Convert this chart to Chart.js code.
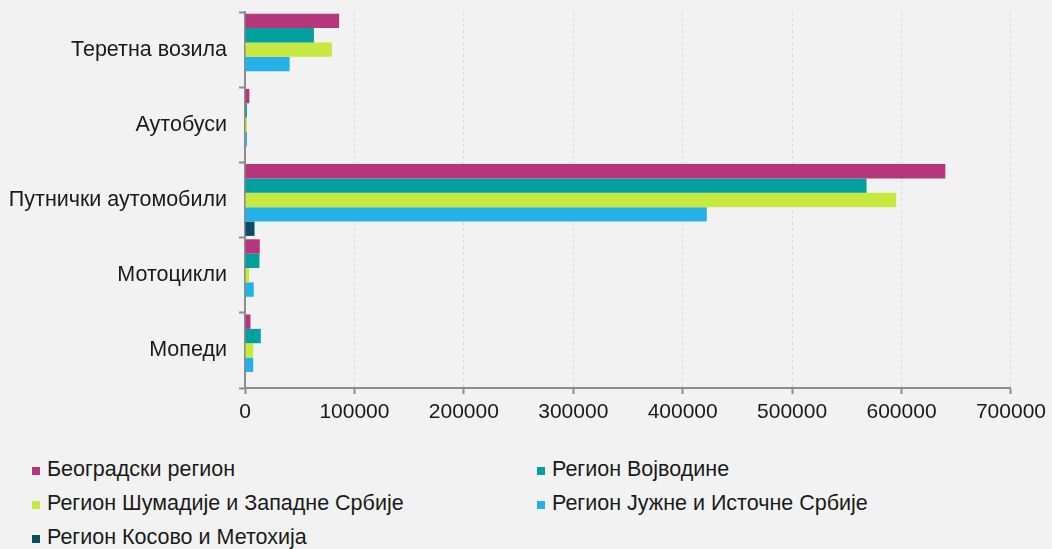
<!DOCTYPE html>
<html>
<head>
<meta charset="utf-8">
<script src="https://cdn.jsdelivr.net/npm/chart.js@4/dist/chart.umd.min.js"></script>
<style>
  body { margin: 0; background: #f2f2f2; font-family: Arial, "Liberation Sans", sans-serif; }
  #wrap { position: relative; width: 1052px; height: 549px; }
  #legend {
    position: absolute; left: 32px; top: 452px;
    display: grid; grid-template-columns: 505px 480px;
    font-size: 21.5px; color: #1a1a1a;
  }
  .item { height: 34px; line-height: 34px; white-space: nowrap; }
  .box { display: inline-block; width: 8px; height: 8px; margin-right: 7px; vertical-align: 1px; }
</style>
</head>
<body>
<div id="wrap">
  <canvas id="barChart" width="1052" height="440"></canvas>
  <div id="legend"></div>
</div>
<script>
// categories, top to bottom
const categories = ['Теретна возила', 'Аутобуси', 'Путнички аутомобили', 'Мотоцикли', 'Мопеди'];

// series names and colours
const seriesNames = [
    'Београдски регион',
    'Регион Војводине',
    'Регион Шумадије и Западне Србије',
    'Регион Јужне и Источне Србије',
    'Регион Косово и Метохија'
];
const seriesColors = ['#b5367a', '#00a19f', '#c6e83f', '#22b1e8', '#0b4e62'];

// values (number of vehicles)
const beograd   = [86000, 4000, 640000, 13500, 5000];
const vojvodina = [63000, 1800, 568000, 13200, 14400];
const sumadija  = [79400, 1800, 595000, 3700, 7500];
const juzna     = [40800, 1800, 422000, 8000, 7500];
const kosovo    = [0, 0, 8700, 0, 0];

const xTicks = [0, 100000, 200000, 300000, 400000, 500000, 600000, 700000];

const seriesValues = [beograd, vojvodina, sumadija, juzna, kosovo];

Chart.defaults.font.family = 'Arial, "Liberation Sans", sans-serif';
Chart.defaults.color = '#1a1a1a';

function renderBarChart() {
    const ctx = document.getElementById('barChart').getContext('2d');
    new Chart(ctx, {
        type: 'bar',
        data: {
            labels: categories,
            datasets: seriesNames.map((name, i) => ({
                label: name,
                data: seriesValues[i],
                backgroundColor: seriesColors[i],
                borderWidth: 0,
                barPercentage: 1,
                categoryPercentage: 0.955
            }))
        },
        options: {
            indexAxis: 'y',
            responsive: false,
            animation: false,
            layout: { padding: { left: 0, right: 40, top: 12, bottom: 0 } },
            plugins: {
                legend: { display: false },
                tooltip: { enabled: false }
            },
            scales: {
                x: {
                    min: xTicks[0],
                    max: xTicks[xTicks.length - 1],
                    afterBuildTicks: (scale) => { scale.ticks = xTicks.map(v => ({ value: v })); },
                    afterFit: (scale) => { scale.height = 52; },
                    ticks: {
                        font: { size: 21 },
                        padding: 6,
                        maxRotation: 0,
                        callback: (v) => String(v)
                    },
                    grid: {
                        color: '#dadada',
                        lineWidth: 1,
                        tickLength: 6,
                        tickColor: '#8c8c8c',
                        tickWidth: 2
                    },
                    border: { color: '#8c8c8c', width: 2, dash: [3, 3] }
                },
                y: {
                    afterFit: (scale) => {
                        scale.width = 245;
                        scale.paddingTop = 0;
                        scale.paddingBottom = 0;
                    },
                    ticks: { font: { size: 21.5 }, padding: 12 },
                    grid: {
                        offset: true,
                        drawOnChartArea: false,
                        tickLength: 6,
                        tickColor: '#8c8c8c',
                        tickWidth: 2
                    },
                    border: { color: '#8c8c8c', width: 2 }
                }
            }
        }
    });
}

// legend in two columns, like the original
function renderLegend() {
    const legend = document.getElementById('legend');
    seriesNames.forEach((name, i) => {
        const item = document.createElement('div');
        item.className = 'item';
        const box = document.createElement('span');
        box.className = 'box';
        box.style.background = seriesColors[i];
        item.appendChild(box);
        item.appendChild(document.createTextNode(name));
        legend.appendChild(item);
    });
}

renderBarChart();
renderLegend();
</script>
</body>
</html>
